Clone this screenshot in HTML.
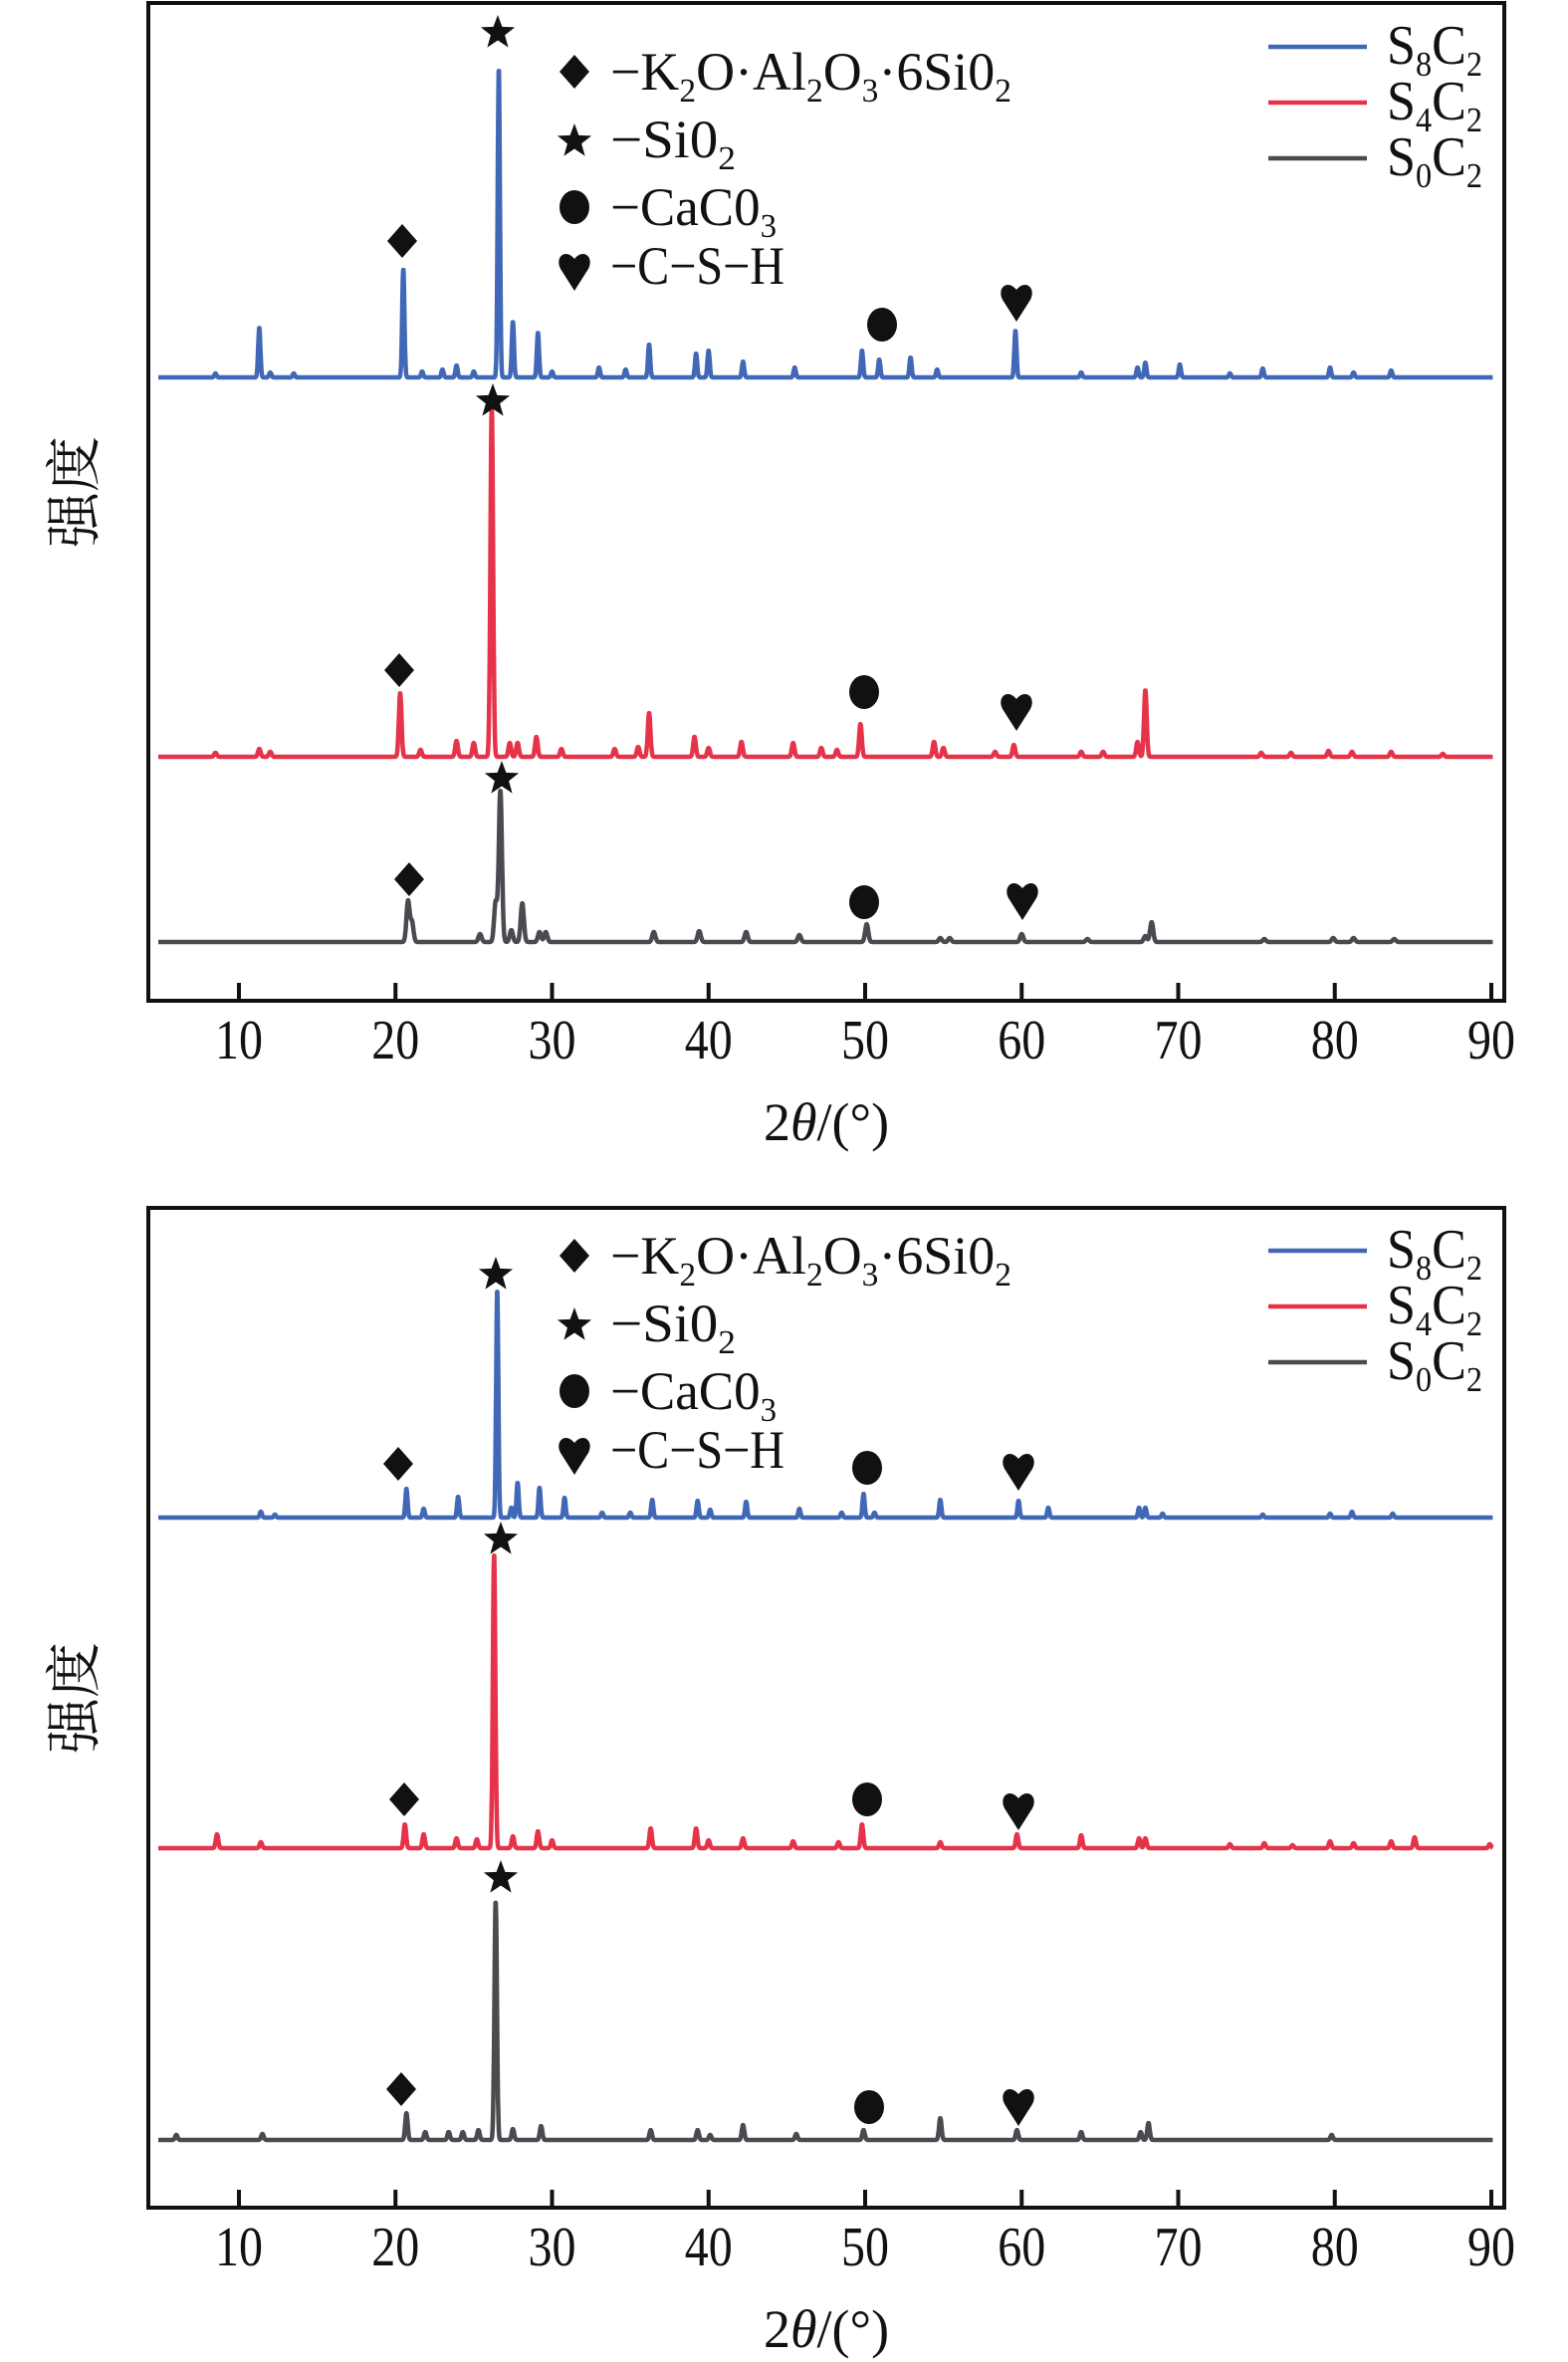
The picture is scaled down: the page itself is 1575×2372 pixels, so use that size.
<!DOCTYPE html>
<html><head><meta charset="utf-8">
<style>
html,body{margin:0;padding:0;background:#fff;}
svg{display:block;}
text{font-family:"Liberation Serif","Noto Serif CJK SC",serif;fill:#111;}
</style></head>
<body>
<svg id="fig" width="1575" height="2372" viewBox="0 0 1575 2372" xmlns="http://www.w3.org/2000/svg"></svg>
<script>
// ---- data: chart 1 ----
const c1BluePos = [8.5,11.3,12.0,13.5,20.5,21.7,23.0,23.9,25.0,26.6,27.5,29.1,30.0,33.0,34.7,36.2,39.2,40.0,42.2,45.5,49.8,50.9,52.9,54.6,59.6,63.8,67.4,67.9,70.1,73.3,75.4,79.7,81.2,83.6];
const c1BlueHt  = [4,50,5,4,109,6,8,12,6,311,56,45,6,10,8,33,24,27,16,10,27,18,20,8,47,5,10,15,13,4,9,10,5,7];
const c1RedPos = [8.5,11.3,12.0,20.3,21.6,23.9,25.0,26.15,27.3,27.8,29.0,30.6,34.0,35.5,36.2,39.1,40.0,42.1,45.4,47.2,48.2,49.7,54.4,55.0,58.3,59.5,63.8,65.2,67.4,67.9,75.3,77.2,79.6,81.1,83.6,86.9];
const c1RedHt  = [4,8,5,64,7,16,14,351,14,14,20,8,8,10,44,20,9,15,14,9,7,33,15,9,5,12,5,5,15,67,4,4,6,5,5,3];
const c1GrayPos = [20.8,21.05,25.4,26.4,26.7,27.4,28.1,29.2,29.6,36.5,39.4,42.4,45.8,50.1,54.8,55.4,60.0,64.2,67.9,68.3,75.5,79.9,81.2,83.8];
const c1GrayHt  = [41,20,8,40,152,12,39,10,10,10,11,10,7,18,4,4,8,3,6,20,3,4,4,3];
// ---- data: chart 2 ----
const c2BluePos = [11.4,12.3,20.7,21.8,24.0,26.5,27.4,27.8,29.2,30.8,33.2,35.0,36.4,39.3,40.1,42.4,45.8,48.5,49.9,50.6,54.8,59.8,61.7,67.5,67.9,69.0,75.4,79.7,81.1,83.7];
const c2BlueHt  = [6,3,29,9,21,229,10,35,30,20,5,5,18,17,8,16,9,5,24,5,18,17,10,10,10,4,3,4,6,4];
const c2RedPos = [8.6,11.4,20.6,21.8,23.9,25.2,26.3,27.5,29.1,30.0,36.3,39.2,40.0,42.2,45.4,48.3,49.8,54.8,59.7,63.8,67.5,67.9,73.3,75.5,77.3,79.7,81.2,83.6,85.1,89.9];
const c2RedHt  = [14,6,24,14,10,9,296,12,17,8,20,20,8,10,7,6,24,6,14,13,10,10,4,5,3,7,5,7,11,4];
const c2GrayPos = [6.0,11.5,20.7,21.9,23.4,24.3,25.3,26.4,27.5,29.3,36.3,39.3,40.1,42.2,45.6,49.9,54.8,59.7,63.8,67.6,68.1,79.8];
const c2GrayHt  = [5,6,27,8,8,8,10,240,11,14,10,10,5,15,6,10,22,10,8,8,17,5];
// ---- axis ticks ----
const xTicks = [10,20,30,40,50,60,70,80,90];
const xTickLabels = ["10","20","30","40","50","60","70","80","90"];
const seriesNames = ["S8C2","S4C2","S0C2"];

const NS="http://www.w3.org/2000/svg";
const svg=document.getElementById('fig');
function mk(tag,attrs,parent){const e=document.createElementNS(NS,tag);for(const k in attrs)e.setAttribute(k,attrs[k]);(parent||svg).appendChild(e);return e;}
const X0=149,X1=1511;
function xScale(t){return 240+15.725*(t-10);}
function yScale(v,base){return base-v;}
const COL={blue:"#4068b6",red:"#e6334a",gray:"#4a4b51"};

function seriesPath(pos,ht,sig,base){
  let d="";
  for(let t=4.85;t<=90.1;t+=0.02){
    let v=0;
    for(let i=0;i<pos.length;i++){const z=(t-pos[i])/sig;if(Math.abs(z)<6)v+=ht[i]*Math.exp(-0.5*z*z);}
    d+=(d?"L":"M")+xScale(t).toFixed(1)+","+yScale(v,base).toFixed(1);
  }
  return d;
}
function marker(type,cx,cy,name){
  let e;
  if(type==="diamond") e=mk('polygon',{points:`${cx},${cy-17} ${cx+15},${cy} ${cx},${cy+17} ${cx-15},${cy}`,fill:"#111"});
  else if(type==="star"){let p=[];for(let i=0;i<10;i++){const r=i%2?7.5:18;const a=-Math.PI/2+i*Math.PI/5;p.push((cx+r*Math.cos(a)).toFixed(1)+","+(cy+r*Math.sin(a)).toFixed(1));}e=mk('polygon',{points:p.join(" "),fill:"#111"});}
  else if(type==="circle") e=mk('ellipse',{cx:cx,cy:cy,rx:15,ry:17,fill:"#111"});
  else e=mk('path',{d:`M${cx},${cy+20} L${cx-14},${cy-2} C${cx-20},${cy-14} ${cx-9},${cy-23} ${cx},${cy-12} C${cx+9},${cy-23} ${cx+20},${cy-14} ${cx+14},${cy-2} Z`,fill:"#111"});
  
  
}
function subText(parts,x,y,size,name,len){
  const t=mk('text',{x:x,y:y,'font-size':size});
  if(len){t.setAttribute('textLength',len);t.setAttribute('lengthAdjust','spacingAndGlyphs');}
  
  
  parts.forEach(p=>{const s=mk('tspan',{},t);if(p[1]){s.setAttribute('font-size',size*0.62);s.setAttribute('dy',12);}else{s.setAttribute('dy',p[2]||0);}s.textContent=p[0];});
  return t;
}
function chart(idx,top,bottom,legOff,legOff2,series,marks){
  const g=mk('g',{});
  
  
  series.forEach(s=>{
    const p=mk('path',{d:seriesPath(s.pos,s.ht,s.sig,s.base),fill:"none",stroke:s.col,'stroke-width':4.5,'stroke-linejoin':'round'},g);
    
    
  });
  const fr=mk('rect',{x:X0,y:top,width:X1-X0,height:bottom-top,fill:"none",stroke:"#111",'stroke-width':4},g);
  
  
  xTicks.forEach((t,i)=>{
    const x=xScale(t);
    const l=mk('line',{x1:x,x2:x,y1:bottom,y2:bottom-18,stroke:"#111",'stroke-width':4},g);
    
    
    const tx=mk('text',{x:x,y:bottom+58,'font-size':56,'text-anchor':'middle',textLength:48,lengthAdjust:'spacingAndGlyphs'},g);
    
    
    tx.textContent=xTickLabels[i];
  });
  const at=mk('text',{x:830,y:bottom+140,'font-size':54,'text-anchor':'middle'},g);
  
  
  at.innerHTML='2<tspan font-style="italic">θ</tspan>/(°)';
  const yt=mk('text',{x:0,y:0,'font-size':56,'text-anchor':'middle',transform:`translate(94,${(top+bottom)/2-10}) rotate(-90)`},g);
  
  
  yt.textContent='强度';
  // phase legend
  const L=legOff;
  marker('diamond',577,72+L,'legend-diamond');
  marker('star',577,142+L,'legend-star');
  marker('circle',577,208+L,'legend-circle');
  marker('heart',577,272+L,'legend-heart');
  subText([["−K"],["2",1],["O·Al",0,-12],["2",1],["O",0,-12],["3",1],["·6Si0",0,-12],["2",1]],613,90+L,54,'legend-k2o-al2o3-6sio2',403);
  subText([["−Si0"],["2",1]],613,158+L,54,'legend-sio2',126);
  subText([["−CaC0"],["3",1]],613,226+L,54,'legend-caco3',167);
  subText([["−C−S−H"]],613,285+L,54,'legend-csh',175);
  // series legend
  const L2=legOff2;
  [COL.blue,COL.red,COL.gray].forEach((c,i)=>{
    const ly=47+56*i+L2;
    const ln=mk('line',{x1:1274,x2:1373,y1:ly,y2:ly,stroke:c,'stroke-width':4.5},g);
    
    
    const nm=seriesNames[i];
    subText([["S"],[nm[1],1],["C",0,-12],["2",1]],1393,64+56*i+L2,56,'legend-label-'+nm,96);
  });
  marks.forEach(m=>marker(m[0],m[1],m[2],m[3]));
}
chart(1,3,1005,0,0,[
  {pos:c1BluePos,ht:c1BlueHt,sig:0.07,base:379,col:COL.blue,name:'series-s8c2'},
  {pos:c1RedPos,ht:c1RedHt,sig:0.085,base:760,col:COL.red,name:'series-s4c2'},
  {pos:c1GrayPos,ht:c1GrayHt,sig:0.1,base:946,col:COL.gray,name:'series-s0c2'}
],[
  ['star',500,33,'peak-star-s8c2'],['diamond',404,242,'peak-diamond-s8c2'],['circle',886,326,'peak-circle-s8c2'],['heart',1021,303,'peak-heart-s8c2'],
  ['star',495,403,'peak-star-s4c2'],['diamond',401,673,'peak-diamond-s4c2'],['circle',868,695,'peak-circle-s4c2'],['heart',1021,714,'peak-heart-s4c2'],
  ['star',504,782,'peak-star-s0c2'],['diamond',411,883,'peak-diamond-s0c2'],['circle',868,906,'peak-circle-s0c2'],['heart',1027,904,'peak-heart-s0c2']
]);
chart(2,1213,2217,1189,1209,[
  {pos:c2BluePos,ht:c2BlueHt,sig:0.07,base:1524,col:COL.blue,name:'series-s8c2'},
  {pos:c2RedPos,ht:c2RedHt,sig:0.08,base:1856,col:COL.red,name:'series-s4c2'},
  {pos:c2GrayPos,ht:c2GrayHt,sig:0.08,base:2149,col:COL.gray,name:'series-s0c2'}
],[
  ['star',498,1280,'peak-star-s8c2'],['diamond',400,1470,'peak-diamond-s8c2'],['circle',871,1474,'peak-circle-s8c2'],['heart',1023,1477,'peak-heart-s8c2'],
  ['star',503,1546,'peak-star-s4c2'],['diamond',406,1807,'peak-diamond-s4c2'],['circle',871,1807,'peak-circle-s4c2'],['heart',1023,1818,'peak-heart-s4c2'],
  ['star',503,1886,'peak-star-s0c2'],['diamond',403,2098,'peak-diamond-s0c2'],['circle',873,2116,'peak-circle-s0c2'],['heart',1023,2115,'peak-heart-s0c2']
]);
</script>
</body></html>
